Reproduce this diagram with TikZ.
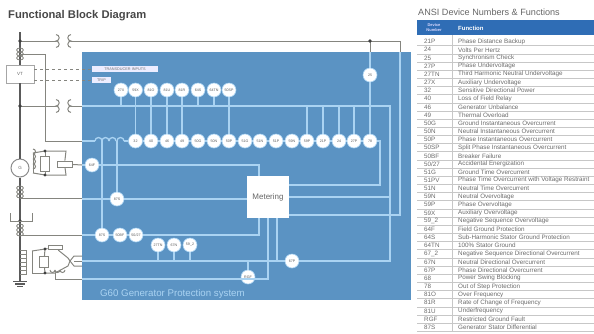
\documentclass[tikz,border=0pt]{standalone}
\usepackage{fontspec}
\setmainfont{Liberation Sans}
\definecolor{panelblue}{HTML}{5B93C3}
\definecolor{feedblue}{HTML}{AAD3F2}
\definecolor{headblue}{HTML}{2F6DB5}
\definecolor{wiregray}{HTML}{85857F}
\definecolor{busgray}{HTML}{5A5A5A}
\tikzset{
  relay/.style={circle,fill=white,draw=feedblue,line width=.6pt,minimum size=14pt,inner sep=0pt,text=black!65,font=\fontsize{3.6}{4}\selectfont},
  pill/.style={fill=white!93!blue,inner sep=0pt,minimum height=6pt,text=black!55,font=\fontsize{3.8}{4}\selectfont},
  feed/.style={feedblue,line width=1.3pt},
  wire/.style={wiregray,line width=1pt},
  bus/.style={busgray,line width=2pt}
}
\begin{document}
\begin{tikzpicture}[x=1pt,y=-1pt]
    \useasboundingbox (0,0) rectangle (594,333);
    \fill[panelblue] (82,52) rectangle (411,300);
    \node[anchor=west,font=\fontsize{11.2}{12}\selectfont\bfseries,text=black!72,inner sep=0pt] (title) at (8,16) {Functional Block Diagram};
    \node[anchor=west,font=\fontsize{9.1}{10}\selectfont,text=black!60,inner sep=0pt] (anhead) at (418,12) {ANSI Device Numbers \& Functions};
    % relay rows
    \foreach \x/\t [count=\i from 1] in {135.5/32,151/40,167/46,182/49,198/50G,214/50N,229/50P,245/51G,260/51N,276/51P,292/59N,307/59P,323/21P,339/24,354/27P,370/78}
      {\node[relay] (r\i) at (\x,141) {\t};}
    \foreach \x/\t [count=\i from 1] in {121/27X,135.5/59X,151/81O,167/81U,182/81R,198/64S,214/64TN,229/50SP}
      {\node[relay] (up\i) at (\x,90) {\t};}
    \node[relay] (s25) at (370,75) {25};
    \node[relay] (s64f) at (92,165) {64F};
    \node[relay] (s87a) at (117,199) {87S};
    \node[relay] (s87b) at (102,235) {87S};
    \node[relay] (s50b) at (120,235) {50BF};
    \node[relay] (s27) at (136,235) {50/27};
    \node[relay] (s59a) at (158,245) {27TN};
    \node[relay] (s59b) at (174,245) {67N};
    \node[relay] (s59c) at (190,245) {59\_2};
    \node[relay] (srgf) at (248,277) {RGF};
    \node[relay] (s67) at (292,261) {67P};
    \node[fill=white,minimum size=42pt,inner sep=0pt,text=black!60,font=\fontsize{8}{9}\selectfont] (meter) at (268,197) {Metering};
    \node[pill,minimum width=66pt] (pillA) at (125,69) {TRANSDUCER INPUTS};
    \node[pill,minimum width=19pt] (pillB) at (101.5,80) {TRIP};
    \node[draw=black!35,fill=white,line width=.8pt,minimum width=28pt,minimum height=18pt,inner sep=0pt,text=black!60,font=\fontsize{4.5}{5}\selectfont] (vt) at (20,74) {VT};
    \node[circle,draw=black!45,fill=white,line width=1pt,minimum size=18pt,inner sep=0pt,text=black!60,font=\fontsize{4.5}{5}\selectfont] (gen) at (20,168) {G};
    % free ends on the bus and on the panel
    \coordinate (tbus) at (20,32);
    \coordinate (j1) at (20,41);
    \coordinate (j2) at (20,106);
    \coordinate (j3) at (20,198);
    \coordinate (j4) at (20,221);
    \coordinate (j5) at (20,235);
    \coordinate (gnd) at (20,281);
    \coordinate (bra) at (56,41);
    \coordinate (brb) at (71,41);
    \coordinate (brc) at (56,106);
    \coordinate (brd) at (71,106);
    \coordinate (tr) at (400,41);
    \coordinate (tp) at (400,52);
    \coordinate (tq) at (400,215);
    \coordinate (t25a) at (370,41);
    \coordinate (t25b) at (370,52);
    \coordinate (ea) at (82,106);
    \coordinate (eb) at (390,106);
    \coordinate (ec) at (390,261);
    \coordinate (ed) at (82,261);
    \coordinate (ca) at (20,54);
    \coordinate (cb) at (45,54);
    \coordinate (cc) at (45,141);
    \coordinate (cd) at (82,141);
    \coordinate (ce) at (95,141);
    \coordinate (ma) at (380,141);
    \coordinate (mb) at (380,185);
    \coordinate (la) at (82,199);
    \coordinate (lb) at (82,235);
    \coordinate (lc) at (259,235);
    \coordinate (ld) at (259,165);
    \coordinate (le) at (82,165);
    \coordinate (lf) at (82,279);
    \coordinate (lg) at (268,279);
    \coordinate (lh) at (277,261);
    % bus and incoming wires
    \draw[bus] (tbus) -- (vt);
    \draw[bus] (vt) -- (gen);
    \draw[bus] (gen) -- (gnd);
    \draw[wire] (j1) -- (bra);
    \draw[wire] (brb) -- (tr) -- (tp);
    \draw[wire] (t25a) -- (t25b);
    \draw[wire] (j2) -- (brc);
    \draw[wire] (brd) -- (ea);
    \draw[wire] (ca) -- (cb) -- (cc) -- (cd);
    \draw[wire] (j3) -- (la |- j3);
    \draw[wire] (j5) -- (lb);
    \foreach \u in {j1,j2,j4,t25a} {\fill[black!75] (\u) circle[radius=1.8pt];}
    \draw[wire,dashed] (vt.east |- pillA) -- (pillA);
    \draw[wire,dashed] (vt.east |- pillB) -- (pillB);
    % breakers
    \foreach \u/\v in {bra/brb,brc/brd} {
      \draw[wire] (\u) ++(0,-6.4) arc[start angle=90,end angle=-90,radius=3.2pt] arc[start angle=90,end angle=-90,radius=3.2pt];
      \draw[wire] (\v) ++(0,-6.4) arc[start angle=90,end angle=270,radius=3.2pt] arc[start angle=90,end angle=270,radius=3.2pt];
    }
    % current transformers on the bus
    \foreach \y in {50,54,58,188,192,196,226,230,234} {\draw[wire,line width=.8pt] (20,\y) ellipse[x radius=3.4pt,y radius=2pt];}
    \draw[wire] (10,213) -- (10,221) -- (32,221) -- (32,213);
    % lines inside the panel
    \draw[feed] (tp) -- (tq) -- (tq -| meter.east);
    \draw[feed] (t25b) -- (s25);
    \draw[feed] (s25) -- (r16);
    \draw[feed] (ea) -- (eb) -- (ec) -- (s67);
    \draw[feed] (s67) -- (srgf.north |- s67) -- (ed);
    \draw[feed] (cd) -- (ce);
    \foreach \x in {95,102,109,117} {\draw[feed] (\x,141) arc[start angle=180,end angle=0,radius=3.5pt];}
    \draw[feed] (124,141) -- (r1);
    \foreach \a/\b in {1/2,2/3,3/4,4/5,5/6,6/7,7/8,8/9,9/10,10/11,11/12,12/13,13/14,14/15,15/16} {\draw[feed] (r\a) -- (r\b);}
    \foreach \a/\b in {2/1,3/2,4/3,5/4,8/7} {\draw[feed] (up\a) -- (r\b);}
    \foreach \a in {1,6,7} {\draw[feed] (up\a) -- (up\a |- ea);}
    \foreach \a in {12,13,14,15} {\draw[feed] (r\a) -- (r\a |- ea);}
    \draw[feed] (r16) -- (ma) -- (mb) -- (mb -| meter.east);
    \draw[feed] (eb |- meter.east) -- (meter.east);
    \draw[feed] (le) -- (s64f);
    \draw[feed] (s64f) -- (ld) -- (meter.north -| ld);
    \draw[feed] (la) -- (s87a);
    \draw[feed] (s87a) -- (s87a -| meter.west);
    \draw[feed] (102,141) -- (s87b);
    \draw[feed] (117,141) -- (s87a);
    \draw[feed] (lb) -- (s87b);
    \draw[feed] (s87b) -- (s50b);
    \draw[feed] (s50b) -- (s27);
    \draw[feed] (s27) -- (lc) -- (meter.south -| lc);
    \foreach \u in {s59a,s59b,s59c} {\draw[feed] (\u) -- (\u |- ed);}
    \draw[feed] (lf) -- (lg) -- (meter.south -| lg);
    \draw[feed] (srgf) -- (srgf |- ed);
    \draw[feed] (meter.south -| lh) -- (lh);
    \node[anchor=west,inner sep=0pt,text=feedblue,font=\fontsize{9.7}{11}\selectfont] (sysname) at (100,294) {G60  Generator Protection system};
    % field circuit at the generator
    \coordinate (fa) at (45,151);
    \coordinate (fb) at (66,151);
    \coordinate (fc) at (66,175);
    \coordinate (fd) at (45,175);
    \node[draw=wiregray,fill=white,line width=.8pt,minimum width=15pt,minimum height=6pt,inner sep=0pt] (fbox) at (64.5,164) {};
    \node[draw=wiregray,line width=.8pt,minimum width=9pt,minimum height=15pt,inner sep=0pt] (fcell) at (45,163.5) {};
    \draw[wire] (fa) -- (fb) -- (fbox);
    \draw[wire] (fd) -- (fc) -- (fbox);
    \draw[wire] (fa) -- (fcell);
    \draw[wire] (fd) -- (fcell);
    \draw[wire] (33,153) -- (33,173);
    \foreach \y in {154,159,164,169} {\draw[wire] (33,\y) arc[start angle=-90,end angle=90,radius=2.5pt];}
    \draw[wire] (33,153) -- (fa);
    \draw[wire] (33,173) -- (fd);
    \draw[wire] (fbox) -- (le);
    \foreach \u in {fa,fd} {\fill[black!75] (\u) circle[radius=1.6pt];}
    % grounding transformer
    \coordinate (ga) at (45,249);
    \coordinate (gb) at (45,273);
    \coordinate (gd) at (68,258);
    \coordinate (ge) at (68,266);
    \coordinate (gf) at (55,273);
    \coordinate (gg) at (55,279);
    \coordinate (gh) at (70,261);
    \node[draw=wiregray,line width=.8pt,minimum width=14pt,minimum height=4.5pt,inner sep=0pt] (gbox) at (55,247.5) {};
    \node[draw=wiregray,line width=.8pt,minimum width=9pt,minimum height=11pt,inner sep=0pt] (gcell) at (44,262) {};
    \draw[wire] (20,250) -- (26,250) -- (26,274) -- (20,274);
    \foreach \y in {254,258,262,266,270} {\draw[wire] (20,\y) -- (26,\y);}
    \draw[wire] (32,251) -- (32,273) -- (gb);
    \draw[wire] (32,251) -- (ga) -- (gbox);
    \draw[wire] (gbox) -- (gd) -- (gh);
    \draw[wire] (gb) -- (gf) -- (ge) -- (gh);
    \draw[wire] (ga) -- (gcell);
    \draw[wire] (gb) -- (gcell);
    \draw[wire] (gh) -- (74,256) -- (82,256);
    \draw[wire] (gh) -- (74,266) -- (82,266);
    \draw[wire] (74,261) -- (ed);
    \foreach \x in {50,55,60} {\draw[wire] (\x,270) arc[start angle=180,end angle=360,radius=2.5pt];}
    \draw[wire] (gf) -- (gg) -- (lf);
    \foreach \u in {ga,gb} {\fill[black!75] (\u) circle[radius=1.6pt];}
    \draw[busgray,line width=1.2pt] (13,281.5) -- (27,281.5);
    \draw[busgray,line width=1.2pt] (15,284) -- (25,284);
    \draw[busgray,line width=1.2pt] (17,286.5) -- (23,286.5);
    % table
    \fill[headblue] (417,20) rectangle (594,35);
    \node[align=center,text=white!85!blue,font=\fontsize{4}{4.6}\selectfont\bfseries,inner sep=0pt] (devhead) at (434,27.5) {Device\\Number};
    \node[anchor=west,text=white,font=\fontsize{6}{7}\selectfont\bfseries,inner sep=0pt] (fnhead) at (458,28) {Function};
    \draw[black!22,line width=.6pt] (452,35) -- (452,331);
    \foreach \n/\f [count=\i from 1] in {21P/Phase Distance Backup,24/Volts Per Hertz,25/Synchronism Check,27P/Phase Undervoltage,27TN/Third Harmonic Neutral Undervoltage,27X/Auxiliary Undervoltage,32/Sensitive Directional Power,40/Loss of Field Relay,46/Generator Unbalance,49/Thermal Overload,50G/Ground Instantaneous Overcurrent,50N/Neutral Instantaneous Overcurrent,50P/Phase Instantaneous Overcurrent,50SP/Split Phase Instantaneous Overcurrent,50BF/Breaker Failure,50{/}27/Accidental Energization,51G/Ground Time Overcurrent,51PV/Phase Time Overcurrent with Voltage Restraint,51N/Neutral Time Overcurrent,59N/Neutral Overvoltage,59P/Phase Overvoltage,59X/Auxiliary Overvoltage,59\_2/Negative Sequence Overvoltage,64F/Field Ground Protection,64S/Sub-Harmonic Stator Ground Protection,64TN/100\% Stator Ground,67\_2/Negative Sequence Directional Overcurrent,67N/Neutral Directional Overcurrent,67P/Phase Directional Overcurrent,68/Power Swing Blocking,78/Out of Step Protection,81O/Over Frequency,81R/Rate of Change of Frequency,81U/Underfrequency,RGF/Restricted Ground Fault,87S/Generator Stator Differential}
      {\pgfmathsetmacro{\ry}{41.6+8.16*(\i-1)}
       \draw[black!22,line width=.6pt] (417,\ry+4.08) -- (594,\ry+4.08);
       \node[anchor=west,inner sep=0pt,text=black!58,font=\fontsize{6.3}{7}\selectfont] (num\i) at (424,\ry) {\n};
       \node[anchor=west,inner sep=0pt,text=black!58,font=\fontsize{6.3}{7}\selectfont] (fn\i) at (458,\ry) {\f};}
  \end{tikzpicture}
\end{document}
